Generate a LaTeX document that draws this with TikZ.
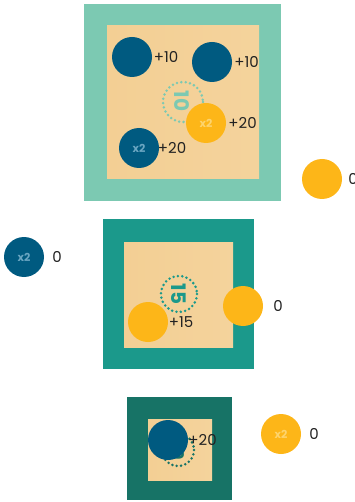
\documentclass[tikz,border=0pt]{standalone}
\usepackage{fontspec}
\setmainfont{Poppins}
\usetikzlibrary{positioning}

\definecolor{navy}{HTML}{005A80}
\definecolor{navytext}{HTML}{6AA6C2}
\definecolor{gold}{HTML}{FDB618}
\definecolor{goldtext}{HTML}{FDD46E}
\definecolor{frameA}{HTML}{7CC9B2}
\definecolor{frameB}{HTML}{1B998B}
\definecolor{frameC}{HTML}{177366}
\definecolor{woodL}{HTML}{F3CF94}
\definecolor{woodM}{HTML}{F7DBA8}
\definecolor{woodR}{HTML}{F4D39C}
\definecolor{ink}{HTML}{222222}

\begin{document}
\begin{tikzpicture}[x=1pt,y=-1pt,
  puck/.style={circle,minimum size=40pt,inner sep=0pt,font=\bfseries\fontsize{11}{11}\selectfont},
  bluepuck/.style={puck,fill=navy,text=navytext},
  goldpuck/.style={puck,fill=gold,text=goldtext},
  score/.style={font=\fontsize{15}{15}\selectfont,text=ink,inner sep=0pt},
  wood/.style={left color=woodL,middle color=woodM,right color=woodR},
  ring/.style={line width=2.8pt,line cap=round,dash pattern=on 0pt off 4.4pt},
  ringnum/.style={font=\bfseries\fontsize{20}{20}\selectfont,rotate=-90,inner sep=0pt}]

  \useasboundingbox (0,0) rectangle (355,502);

  % top board
  \fill[frameA] (84,4) rectangle (281,201);
  \shade[wood] (107,26) rectangle (259,179);
  \draw[ring,frameA] (183,102) circle (20);
  \node[ringnum,text=frameA] (n10) at (182,101) {10};

  \node[bluepuck] (t1) at (132,57) {};
  \node[score,right=1.5pt of t1] (t1s) {+10};
  \node[bluepuck] (t2) at (212,62) {};
  \node[score,right=2pt of t2] (t2s) {+10};
  \node[goldpuck] (t3) at (206,123) {x2};
  \node[score,right=2pt of t3] (t3s) {+20};
  \node[bluepuck] (t4) at (139,148) {x2};
  \node[score,right=-1.5pt of t4] (t4s) {+20};

  % pucks outside
  \node[goldpuck] (o1) at (322,179) {};
  \node[score,right=6pt of o1] (o1s) {0};
  \node[bluepuck] (o2) at (24,257) {x2};
  \node[score,right=8pt of o2] (o2s) {0};

  % middle board
  \fill[frameB] (103,219) rectangle (254,369);
  \shade[wood] (124,242) rectangle (233,347);
  \draw[ring,frameB] (179,294) circle (18);
  \node[ringnum,text=frameB] (n15) at (179,294) {15};

  \node[goldpuck] (m1) at (148,322) {};
  \node[score,right=0.5pt of m1] (m1s) {+15};
  \node[goldpuck] (m2) at (243,306) {};
  \node[score,right=10pt of m2] (m2s) {0};

  % bottom board
  \fill[frameC] (127,397) rectangle (232,500);
  \shade[wood] (148,419) rectangle (212,480);
  \draw[ring,frameC] (178,450) circle (16);
  \node[ringnum,font=\bfseries\fontsize{16}{16}\selectfont,text=frameC] (n20) at (178,450) {20};

  \node[bluepuck] (b1) at (168,440) {};
  \node[score,right=0pt of b1] (b1s) {+20};
  \node[goldpuck] (b2) at (281,434) {x2};
  \node[score,right=8pt of b2] (b2s) {0};
\end{tikzpicture}
\end{document}
